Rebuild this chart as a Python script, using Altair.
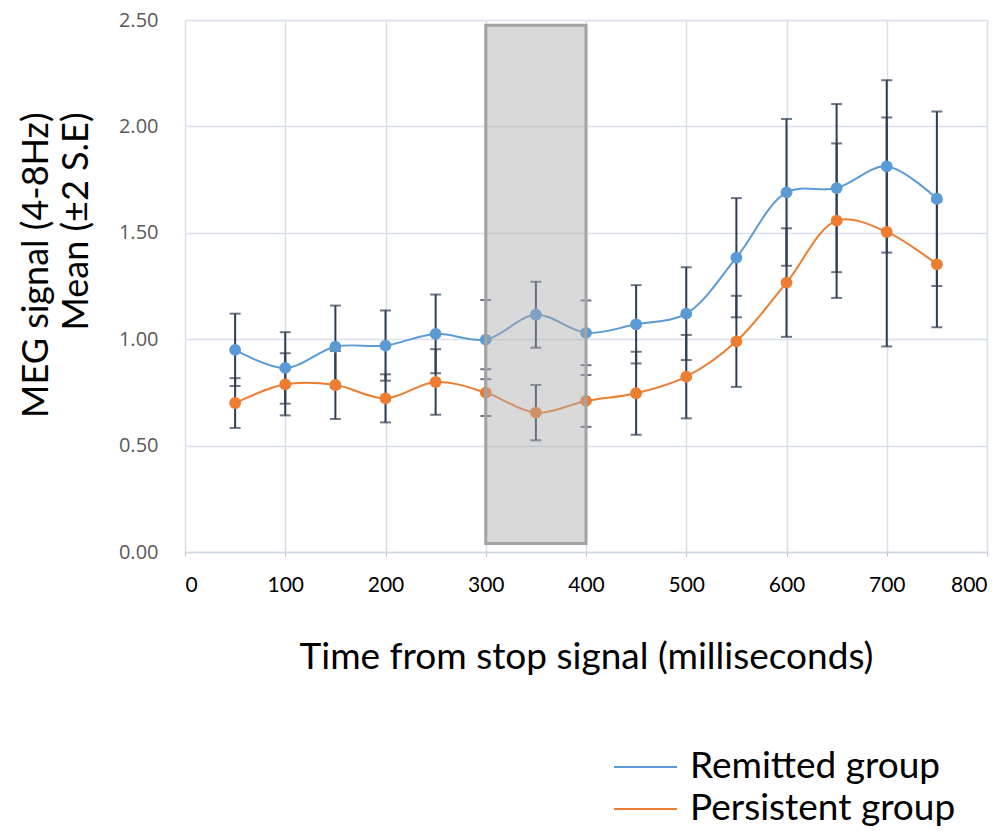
import altair as alt
import pandas as pd

times = [50, 100, 150, 200, 250, 300, 350, 400, 450, 500, 550, 600, 650, 700, 750]
remitted_mean = [0.95, 0.865, 0.965, 0.97, 1.025, 0.998, 1.115, 1.03, 1.07, 1.12, 1.383, 1.69, 1.71, 1.812, 1.66]
remitted_err = [0.17, 0.168, 0.193, 0.165, 0.185, 0.186, 0.155, 0.152, 0.184, 0.218, 0.28, 0.345, 0.395, 0.405, 0.41]
persistent_mean = [0.70, 0.788, 0.785, 0.722, 0.799, 0.749, 0.655, 0.71, 0.746, 0.824, 0.99, 1.266, 1.557, 1.504, 1.352]
persistent_err = [0.117, 0.146, 0.16, 0.113, 0.154, 0.11, 0.13, 0.122, 0.195, 0.196, 0.214, 0.255, 0.363, 0.538, 0.296]
groups = ["Remitted group", "Persistent group"]
colors = ["#5b9bd5", "#ed7d31"]

box_x = [300]
box_x2 = [400]
box_y = [0.04]
box_y2 = [2.475]

x_ticks = [0, 100, 200, 300, 400, 500, 600, 700, 800]
y_ticks = [0.0, 0.5, 1.0, 1.5, 2.0, 2.5]

rows = []
for g, means, errs in [(groups[0], remitted_mean, remitted_err), (groups[1], persistent_mean, persistent_err)]:
    for t, m, e in zip(times, means, errs):
        rows.append({"t": t, "mean": m, "lo": m - e, "hi": m + e, "group": g})
df = pd.DataFrame(rows)
box = pd.DataFrame({"x": box_x, "x2": box_x2, "y": box_y, "y2": box_y2})

grid_col = "#d9e0ea"
xscale = alt.Scale(domain=[0, 800], nice=False, zero=False)
yscale = alt.Scale(domain=[0, 2.5], nice=False, zero=True)
cscale = alt.Scale(domain=groups, range=colors)

x_enc = alt.X("t:Q", scale=xscale, axis=alt.Axis(
    values=x_ticks, title="Time from stop signal (milliseconds)", grid=True,
    gridColor=grid_col, gridWidth=1.5, domainColor="#d0d7e2", domainWidth=1.5,
    tickColor="#b8bec8", tickSize=4, labelColor="#000000", labelFont="Lato",
    labelFontSize=21, labelPadding=18, titleFont="Lato", titleFontSize=37,
    titleFontWeight="normal", titleColor="#000000", titlePadding=44))
y_axis = alt.Axis(values=y_ticks, format=".2f", title=["MEG signal (4-8Hz)", "Mean (±2 S.E)"],
    grid=True, gridColor=grid_col, gridWidth=1.5, domain=False, ticks=False,
    labelColor="#595959", labelFont="Open Sans", labelFontSize=20, labelPadding=27,
    titleFont="Lato", titleFontSize=36, titleFontWeight="normal", titleColor="#000000",
    titleLineHeight=40, titleAngle=270, titleAlign="right", titleBaseline="top",
    titleX=-166, titleY=92)

base = alt.Chart(df)

bars = base.mark_rule(color="#2f3d52", strokeWidth=2).encode(
    x=x_enc, y=alt.Y("lo:Q", scale=yscale, axis=y_axis), y2="hi:Q")
caps_lo = base.mark_tick(color="#2f3d52", orient="horizontal", size=11, thickness=2).encode(
    x="t:Q", y="lo:Q")
caps_hi = base.mark_tick(color="#2f3d52", orient="horizontal", size=11, thickness=2).encode(
    x="t:Q", y="hi:Q")
lines = base.mark_line(interpolate="catmull-rom", strokeWidth=2).encode(
    x="t:Q", y="mean:Q",
    color=alt.Color("group:N", scale=cscale, title=None, legend=alt.Legend(
        orient="none", legendX=428, legendY=726, symbolType="stroke", symbolSize=3969,
        symbolStrokeWidth=2, labelFont="Lato", labelFontSize=37, labelColor="#000000",
        labelOffset=12, rowPadding=0, clipHeight=42, labelLimit=400)),
    detail="group:N")
points = base.mark_circle(size=140, opacity=1).encode(
    x="t:Q", y="mean:Q",
    fill=alt.Fill("group:N", scale=cscale, legend=None))
rect = alt.Chart(box).mark_rect(fill="#aaaaaa", fillOpacity=0.45, stroke="#a3a3a3",
                                strokeWidth=3).encode(
    x="x:Q", x2="x2:Q", y="y:Q", y2="y2:Q")

chart = alt.layer(bars, caps_lo, caps_hi, lines, points, rect).properties(
    width=802, height=532,
    autosize=alt.AutoSizeParams(type="none"),
    padding={"left": 177, "top": 12, "right": 13, "bottom": 275},
).configure_view(stroke=None).configure(background="#ffffff")

chart.save("out.html", embed_options={"renderer": "svg", "actions": False})
